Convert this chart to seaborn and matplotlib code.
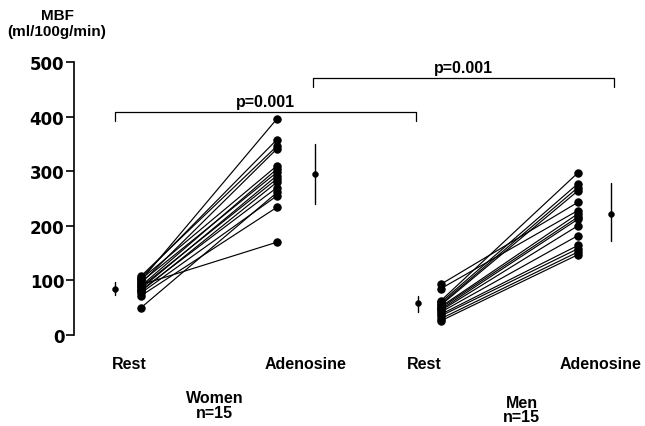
import numpy as np
import pandas as pd
import matplotlib
matplotlib.use("Agg")
import matplotlib.pyplot as plt
import seaborn as sns

# ---- data ----
women_rest = [100, 105, 108, 95, 102, 90, 97, 85, 88, 80, 82, 50, 77, 72, 92]
women_aden = [396, 358, 346, 341, 310, 304, 298, 292, 286, 280, 270, 261, 255, 234, 170]
men_rest = [93, 85, 63, 60, 57, 55, 52, 50, 47, 45, 42, 38, 35, 30, 26]
men_aden = [243, 228, 297, 277, 270, 264, 222, 216, 212, 200, 182, 164, 158, 152, 147]

summary_means = [84, 295, 58, 222]
summary_low = [74, 240, 42, 173]
summary_high = [97, 349, 72, 279]

conditions = ["Rest", "Adenosine", "Rest", "Adenosine"]
groups = ["Women\nn=15", "Men\nn=15"]
p_labels = ["p=0.001", "p=0.001"]
yticks = [0, 100, 200, 300, 400, 500]

# ---- layout positions ----
pos_points = [0.0, 1.0, 2.206, 3.213]
pos_means = [-0.19, 1.28, 2.04, 3.46]

rows = []
for i, (r, a) in enumerate(zip(women_rest, women_aden)):
    rows.append(dict(subject=f"w{i}", x=pos_points[0], value=r))
    rows.append(dict(subject=f"w{i}", x=pos_points[1], value=a))
for i, (r, a) in enumerate(zip(men_rest, men_aden)):
    rows.append(dict(subject=f"m{i}", x=pos_points[2], value=r))
    rows.append(dict(subject=f"m{i}", x=pos_points[3], value=a))
df = pd.DataFrame(rows)

sns.set_style("white")
plt.rcParams["font.family"] = ["Liberation Sans", "DejaVu Sans"]
plt.rcParams["font.weight"] = "bold"
plt.rcParams["text.color"] = "black"
plt.rcParams["ytick.color"] = "black"
plt.rcParams["ytick.labelcolor"] = "black"

fig = plt.figure(figsize=(6.45, 4.27), dpi=100)
ax = fig.add_axes([74 / 645, 1 - 336 / 427, (640 - 74) / 645, (336 - 63) / 427])

sns.lineplot(data=df, x="x", y="value", units="subject", estimator=None,
             color="black", linewidth=0.85, marker="o", markersize=5.3,
             markeredgecolor="black", markerfacecolor="black", ax=ax, legend=False)

# summary mean +/- SD
mdf = pd.DataFrame(dict(x=pos_means, mean=summary_means))
for x, lo, hi in zip(pos_means, summary_low, summary_high):
    ax.plot([x, x], [lo, hi], color="black", linewidth=1.0)
sns.scatterplot(data=mdf, x="x", y="mean", color="black", s=18, edgecolor="black",
                ax=ax, legend=False, zorder=3)

ax.set_xlim(-0.493, 3.67)
ax.set_ylim(0, 500)
ax.set_xlabel("")
ax.set_ylabel("")
ax.set_xticks([])
ax.set_yticks(yticks)
ax.set_yticklabels([str(t) for t in yticks], fontfamily="DejaVu Sans",
                   fontweight="bold", fontsize=12, color="black")
ax.tick_params(axis="y", length=6, width=1.2, pad=1, color="black", left=True)
for s in ["top", "right", "bottom"]:
    ax.spines[s].set_visible(False)
ax.spines["left"].set_linewidth(1.2)
ax.spines["left"].set_color("black")
ax.spines["left"].set_bounds(0, 500)

# brackets
def bracket(x0, x1, y, drop, label):
    ax.plot([x0, x0, x1, x1], [y - drop, y, y, y - drop], color="black",
            linewidth=0.9, clip_on=False)
    ax.text((x0 + x1) / 2, y + 6, label, ha="center", va="bottom",
            fontsize=11.5, fontweight="bold", color="black")

bracket(-0.19, 2.025, 408, 16, p_labels[0])
bracket(1.265, 3.48, 470, 15, p_labels[1])

# condition labels
lab_x = [-0.09, 1.21, 2.08, 3.38]
for x, t in zip(lab_x, conditions):
    ax.text(x, -53, t, ha="center", va="center", fontsize=11.5,
            fontweight="bold", color="black", clip_on=False)
ax.text(0.54, -128, groups[0], ha="center", va="center", fontsize=11.5,
        fontweight="bold", color="black", linespacing=0.95, clip_on=False)
ax.text(2.80, -136, groups[1], ha="center", va="center", fontsize=11.5,
        fontweight="bold", color="black", linespacing=0.95, clip_on=False)

fig.text(57 / 645, 1 - 24 / 427, "MBF\n(ml/100g/min)", ha="center", va="center",
         fontsize=11, fontweight="bold", color="black", linespacing=1.1)

fig.savefig("out.png", dpi=100, facecolor="white")
